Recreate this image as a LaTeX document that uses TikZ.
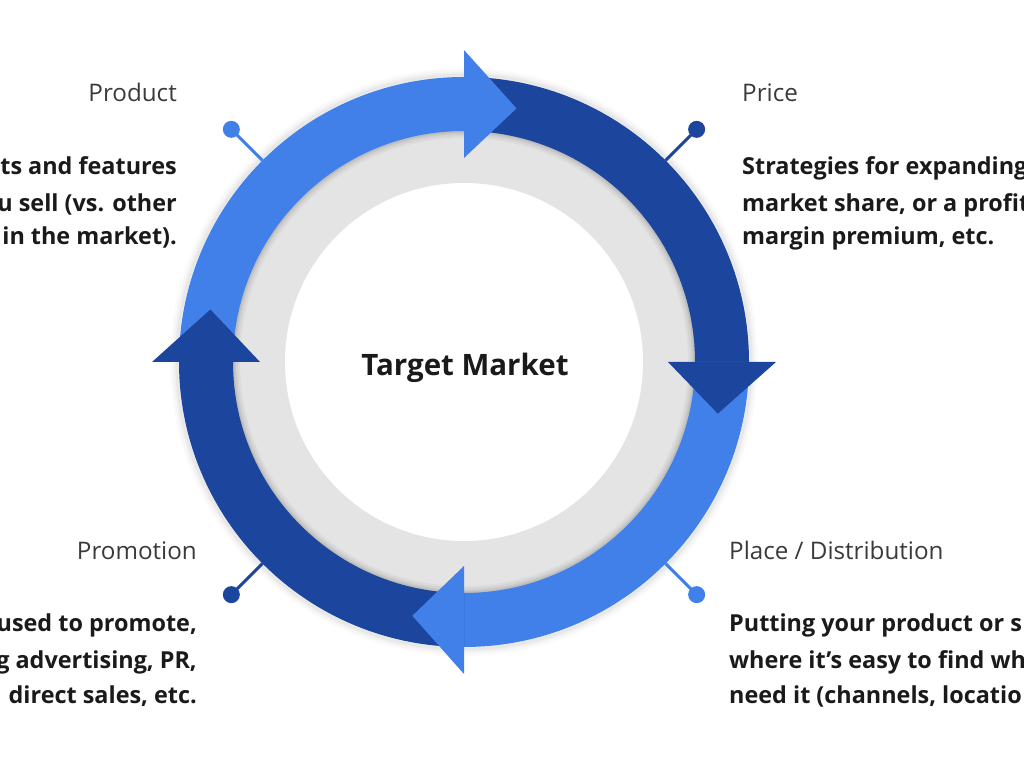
\documentclass[tikz,border=0pt]{standalone}
\usepackage{fontspec}
\setmainfont{Open Sans}
\usetikzlibrary{calc}
\definecolor{lblue}{HTML}{4080E8}
\definecolor{dblue}{HTML}{1C459D}
\definecolor{ringgrey}{HTML}{E4E4E4}
\definecolor{ttl}{HTML}{3A3A3A}
\definecolor{desc}{HTML}{1A1A1A}
\tikzset{
  ttlnode/.style={inner sep=0pt, text=ttl, font=\fontsize{24.2}{28}\selectfont},
  descnode/.style={inner sep=0pt, text=desc, font=\bfseries\fontsize{23.4}{28}\selectfont},
  pinline/.style={line width=3pt},
}
\newcommand\annsec[3]{%
  \fill[#1] ($(C)+(#2:285)$) arc[start angle=#2, end angle=#3, radius=285]
    -- ($(C)+(#3:231)$) arc[start angle=#3, end angle=#2, radius=231] -- cycle;}
\newcommand\headtri[3]{%
  \fill[#1] ($(C)+(#2:204)$) -- ($(C)+(#2:312)$) -- ($(C)+(#3:259)$) -- cycle;}
\begin{document}
\begin{tikzpicture}[x=1pt,y=1pt]
\useasboundingbox (0,0) rectangle (1024,768);
\clip (0,0) rectangle (1024,768);
\coordinate (C) at (464,406);
% grey ring and white centre
\fill[ringgrey] (C) circle (240);
\foreach \w/\o in {14/0.03,10/0.04,6/0.05,3/0.06}{
  \draw[line width=\w pt, black, opacity=\o] (C) circle (231);
  \draw[line width=\w pt, black, opacity=\o*0.5] (C) circle (287);
}
\fill[white] (C) circle (179);
% arrow bodies
\annsec{lblue}{180}{90}
\annsec{dblue}{90}{0}
\annsec{lblue}{0}{-90}
\annsec{dblue}{-90}{-180}
% arrow heads
\headtri{lblue}{90}{78.3}
\headtri{dblue}{0}{-11.5}
\headtri{lblue}{-90}{-101.5}
\headtri{dblue}{180}{168.3}
% pins
\coordinate (p1a) at ($(C)+(135:285)$); \coordinate (p1) at ($(C)+(135:329)$);
\coordinate (p2a) at ($(C)+(45:285)$);  \coordinate (p2) at ($(C)+(45:329)$);
\coordinate (p3a) at ($(C)+(225:285)$); \coordinate (p3) at ($(C)+(225:329)$);
\coordinate (p4a) at ($(C)+(-45:285)$); \coordinate (p4) at ($(C)+(-45:329)$);
\draw[pinline, lblue] (p1a) -- (p1); \fill[lblue] (p1) circle (8.5);
\draw[pinline, dblue] (p2a) -- (p2); \fill[dblue] (p2) circle (8.5);
\draw[pinline, dblue] (p3a) -- (p3); \fill[dblue] (p3) circle (8.5);
\draw[pinline, lblue] (p4a) -- (p4); \fill[lblue] (p4) circle (8.5);
% centre text
\node[inner sep=0pt, text=desc, font=\bfseries\fontsize{29.5}{34}\selectfont, anchor=base] (tm) at (465,392) {Target Market};
% Product
\node[ttlnode, anchor=base east] (prodT) at (177,666) {Product};
\node[descnode, anchor=base east] (prod1) at (177,593) {ts and features};
\node[descnode, anchor=base east] (prod2) at (177,556) {u sell (vs. other};
\node[descnode, anchor=base east] (prod3) at (177,523) {in the market).};
% Price
\node[ttlnode, anchor=base west] (priceT) at (742,666) {Price};
\node[descnode, anchor=base west] (price1) at (742,593) {Strategies for expanding};
\node[descnode, anchor=base west] (price2) at (742,556) {market share, or a profit};
\node[descnode, anchor=base west] (price3) at (742,523) {margin premium, etc.};
% Promotion
\node[ttlnode, anchor=base east] (promT) at (197,208) {Promotion};
\node[descnode, anchor=base east] (prom1) at (197,136) {used to promote,};
\node[descnode, anchor=base east] (prom2) at (197,100) {g advertising, PR,};
\node[descnode, anchor=base east] (prom3) at (197,65) {direct sales, etc.};
% Place
\node[ttlnode, anchor=base west] (placeT) at (729,208) {Place / Distribution};
\node[descnode, anchor=base west] (place1) at (729,136) {Putting your product or s};
\node[descnode, anchor=base west] (place2) at (729,100) {where it’s easy to find wh};
\node[descnode, anchor=base west] (place3) at (729,65) {need it (channels, locatio};
\end{tikzpicture}
\end{document}
